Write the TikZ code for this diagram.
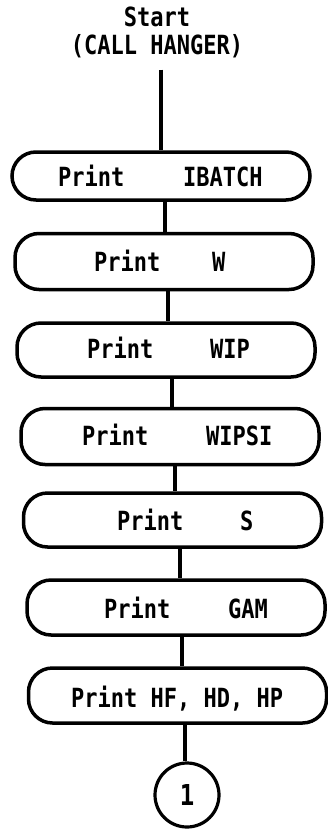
\documentclass[tikz,border=0pt]{standalone}
\usepackage{fontspec}
\setmonofont{DejaVu Sans Mono}
\newcommand{\tallt}[1]{\scalebox{1}[1.2]{#1}}
\begin{document}
\begin{tikzpicture}[x=1pt,y=-1pt,
  boxshape/.style={draw,line width=3.5pt,rounded corners=24pt,minimum width=298pt,inner sep=0pt},
  txt/.style={font=\ttfamily\bfseries\fontsize{22}{26}\selectfont,inner sep=0pt,anchor=base west},
  conn/.style={line width=3.2pt},
  circ/.style={draw,circle,line width=3.2pt,minimum size=64pt,inner sep=0pt,font=\ttfamily\bfseries\fontsize{24}{28}\selectfont}]
\useasboundingbox (0,0) rectangle (327,833);
\node[font=\ttfamily\bfseries\fontsize{22}{28}\selectfont,align=center,inner sep=0pt] (start) at (157,32) {\tallt{Start}\\\tallt{(CALL HANGER)}};
\node[boxshape,minimum height=48pt] (b1) at (161,176) {};
\node[boxshape,minimum height=56pt] (b2) at (164,261.5) {};
\node[boxshape,minimum height=54pt] (b3) at (166,350) {};
\node[boxshape,minimum height=56pt] (b4) at (170,436.5) {};
\node[boxshape,minimum height=54pt] (b5) at (172.5,520) {};
\node[boxshape,minimum height=55pt] (b6) at (176,607.5) {};
\node[boxshape,minimum height=55pt] (b7) at (177.5,695.5) {};
\node[circ] (c1) at (187,795) {\tallt{1}};
% texts
\node[txt] (t1a) at (58,186) {\tallt{Print}};
\node[txt] (t1b) at (183,186) {\tallt{IBATCH}};
\node[txt] (t2a) at (94,271) {\tallt{Print}};
\node[txt] (t2b) at (212,271) {\tallt{W}};
\node[txt] (t3a) at (87,358) {\tallt{Print}};
\node[txt] (t3b) at (210,358) {\tallt{WIP}};
\node[txt] (t4a) at (82,445) {\tallt{Print}};
\node[txt] (t4b) at (206,445) {\tallt{WIPSI}};
\node[txt] (t5a) at (117,530) {\tallt{Print}};
\node[txt] (t5b) at (240,530) {\tallt{S}};
\node[txt] (t6a) at (104,618) {\tallt{Print}};
\node[txt] (t6b) at (228,618) {\tallt{GAM}};
\node[txt] (t7) at (71,707) {\tallt{Print HF, HD, HP}};
% connectors
\draw[conn] (start.south -| 161,0) ++(0,12) -- (b1.north -| 161,0);
\draw[conn] (b1.south -| 165,0) -- (b2.north -| 165,0);
\draw[conn] (b2.south -| 168,0) -- (b3.north -| 168,0);
\draw[conn] (b3.south -| 172,0) -- (b4.north -| 172,0);
\draw[conn] (b4.south -| 175,0) -- (b5.north -| 175,0);
\draw[conn] (b5.south -| 180,0) -- (b6.north -| 180,0);
\draw[conn] (b6.south -| 182,0) -- (b7.north -| 182,0);
\draw[conn] (b7.south -| 185,0) -- (c1.north -| 185,0);
\end{tikzpicture}
\end{document}
